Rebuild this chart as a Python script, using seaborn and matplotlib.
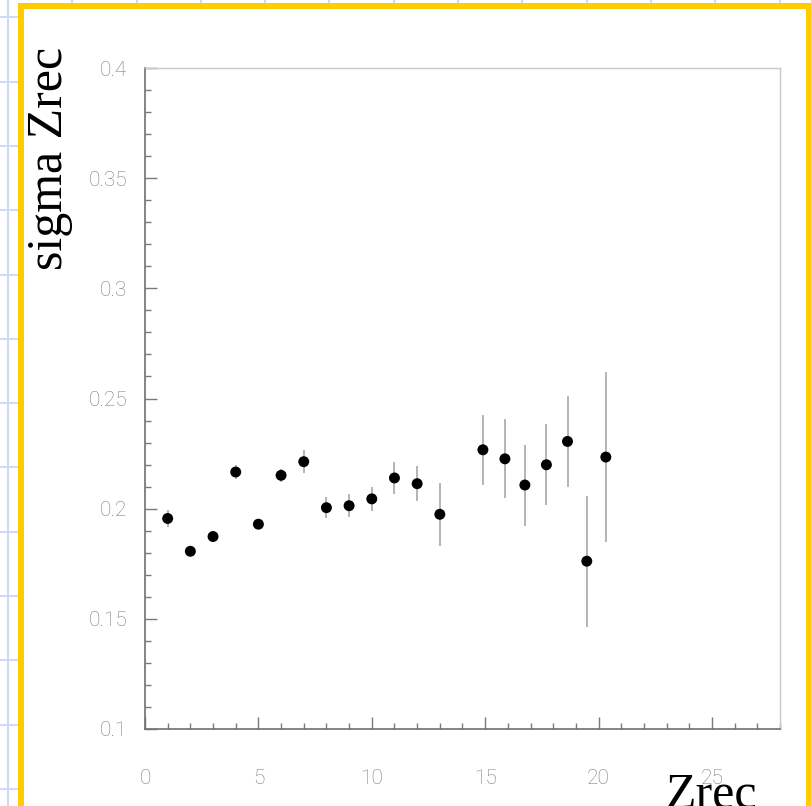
import numpy as np
import pandas as pd
import matplotlib
matplotlib.use("Agg")
import matplotlib.pyplot as plt
import seaborn as sns
from matplotlib.ticker import MultipleLocator
from matplotlib.patches import Rectangle

# ---- data ----
zrec = [1, 2, 3, 4, 5, 6, 7, 8, 9, 10, 11, 12, 13,
        14.9, 15.87, 16.75, 17.7, 18.63, 19.48, 20.32]
sigma_zrec = [0.1955, 0.1806, 0.1873, 0.2166, 0.1929, 0.2151, 0.2213, 0.2004,
              0.2013, 0.2044, 0.2139, 0.2113, 0.1974, 0.2267, 0.2226, 0.2107,
              0.2199, 0.2305, 0.1761, 0.2234]
sigma_err = [0.0040, 0.0015, 0.0020, 0.0030, 0.0020, 0.0030, 0.0052, 0.0048,
             0.0051, 0.0054, 0.0073, 0.0080, 0.0142, 0.0160, 0.0179, 0.0184,
             0.0184, 0.0207, 0.0297, 0.0387]
x_ticks = [0, 5, 10, 15, 20, 25]
x_tick_labels = ["0", "5", "10", "15", "20", "25"]
y_ticks = [0.1, 0.15, 0.2, 0.25, 0.3, 0.35, 0.4]
y_tick_labels = ["0.1", "0.15", "0.2", "0.25", "0.3", "0.35", "0.4"]

df = pd.DataFrame({"Zrec": zrec, "sigma": sigma_zrec, "err": sigma_err})
df["lo"] = df["sigma"] - df["err"]
df["hi"] = df["sigma"] + df["err"]

sns.set_theme(style="white")
W, H = 812, 806
fig = plt.figure(figsize=(W / 100, H / 100), dpi=100)
fig.patch.set_facecolor("white")

# ---- slide background: light blue graph paper + yellow frame ----
bg = fig.add_axes([0, 0, 1, 1], zorder=-10)
bg.set_xlim(0, W)
bg.set_ylim(H, 0)
bg.axis("off")
for gx in np.arange(8, W, 64.3):
    bg.axvline(gx, color="#cfdaf6", lw=1.5)
for gy in np.arange(17.3, H, 64.3):
    bg.axhline(gy, color="#cfdaf6", lw=1.5)
bg.add_patch(Rectangle((21, 6), 809.5 - 21, 900, facecolor="white",
                       edgecolor="#FFCC00", lw=4.3, zorder=3))

# ---- main axes ----
ax = fig.add_axes([145 / W, (H - 728.7) / H, 635 / W, 660.4 / H])
ax.set_facecolor("none")

ax.vlines(df["Zrec"], df["lo"], df["hi"], color="#a8a8a8", lw=1.2, zorder=2)
sns.scatterplot(data=df, x="Zrec", y="sigma", color="black", s=62,
                edgecolor="none", linewidth=0, zorder=3, ax=ax, legend=False)

ax.set_xlim(0, 28)
ax.set_ylim(0.1, 0.4)
ax.set_xlabel("")
ax.set_ylabel("")

tick_font = dict(fontfamily="Roboto", fontweight="light", color="#7c7c7c", fontsize=15)
ax.set_xticks(x_ticks, x_tick_labels, **tick_font)
ax.set_yticks(y_ticks, y_tick_labels, **tick_font)
ax.xaxis.set_minor_locator(MultipleLocator(1))
ax.yaxis.set_minor_locator(MultipleLocator(0.01))

ax.tick_params(which="both", direction="in", color="#7a7a7a", width=1,
               bottom=True, left=True, top=False, right=False)
ax.tick_params(which="major", length=8.6)
ax.tick_params(which="minor", length=4.3)
ax.tick_params(axis="x", which="major", pad=29)
ax.tick_params(axis="y", which="major", pad=12.7)

for side in ["left", "bottom"]:
    ax.spines[side].set_color("#707070")
    ax.spines[side].set_linewidth(1.2)
for side in ["top", "right"]:
    ax.spines[side].set_color("#c8c8c8")
    ax.spines[side].set_linewidth(1.0)
ax.grid(False)

# ---- axis titles ----
fig.text(62 / W, (H - 158) / H, "sigma Zrec", rotation=90, rotation_mode="anchor",
         ha="center", va="baseline", fontsize=36, family="Liberation Serif",
         color="black")
fig.text(666 / W, (H - 808) / H, "Zrec", ha="left", va="baseline", fontsize=36,
         family="Liberation Serif", color="black")

fig.savefig("out.png", dpi=100)
